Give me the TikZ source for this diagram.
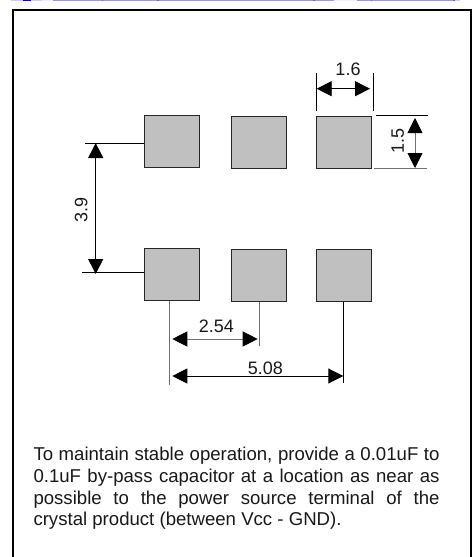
\documentclass[tikz,border=0pt]{standalone}
\usepackage{fontspec}
\setmainfont{Liberation Sans}
\usetikzlibrary{arrows.meta,calc}
\definecolor{padgray}{HTML}{C0C0C0}
\definecolor{peri}{HTML}{9C9CCE}
\definecolor{lav}{HTML}{CFCFE8}
\definecolor{pale}{HTML}{EFEFF8}
\definecolor{navy}{HTML}{1A0A8C}
\definecolor{extgray}{HTML}{707070}
\tikzset{
  x=1pt,y=-1pt,
  pad/.style={draw=black!85,line width=1.2pt,fill=padgray,rectangle,inner sep=0pt,minimum width=55pt,minimum height=52pt,anchor=north west},
  extline/.style={line width=0.8pt,black},
  extgrayline/.style={line width=1pt,extgray},
  dimline/.style={line width=0.9pt,black,{Triangle[length=15pt,width=15pt]}-{Triangle[length=15pt,width=15pt]}},
  dimgray/.style={dimline,draw=extgray,{Triangle[length=15pt,width=15pt,black]}-{Triangle[length=15pt,width=15pt,black]}},
  dimtext/.style={font=\fontsize{18}{20}\selectfont,inner sep=0pt,text=black!90},
}
\begin{document}
\begin{tikzpicture}
\useasboundingbox (0,0) rectangle (475,557);
% strip along the top edge
\fill[lav] (11,0) rectangle (23,1.3);
\fill[navy] (23,0) rectangle (31,1.3);
\fill[lav] (31,0) rectangle (42,1.3);
\fill[pale] (42,0) rectangle (53,1.3);
\fill[peri] (53,0) rectangle (334,1.3);
\fill[pale] (334,0) rectangle (357,1.3);
\fill[peri] (357,0) rectangle (453,1.3);
\fill[lav] (455,0) rectangle (460,1.3);
\foreach \xt in {101.5,157,313,370.5,453}{\fill[black!55] (\xt,0) rectangle (\xt+1.7,1.3);}
% frame, open at the bottom of the picture
\draw[line width=2.2pt,black] (13.3,557) -- (13.3,10) -- (471,10) -- (471,557);
% pads
\node[pad] (p1) at (143.5,115) {};
\node[pad] (p2) at (231,116) {};
\node[pad] (p3) at (316,116) {};
\node[pad] (p4) at (143.5,247.5) {};
\node[pad] (p5) at (231,248.5) {};
\node[pad] (p6) at (316,248.5) {};
% 1.6
\coordinate (a1) at (316.7,72.5); \coordinate (a2) at (316.7,111);
\coordinate (b1) at (373.3,72.5); \coordinate (b2) at (373.3,111);
\draw[extline] (a1) -- (a2);
\draw[extline] (b1) -- (b2);
\coordinate (c1) at (316.7,88.7); \coordinate (c2) at (370,88.7);
\draw[dimline] (c1) -- (c2);
\node[dimtext] (t16) at (348,69) {1.6};
% 1.5
\coordinate (d1) at (376,115.7); \coordinate (d2) at (428,115.7);
\coordinate (e1) at (373.7,168.7); \coordinate (e2) at (427,168.7);
\draw[extline] (d1) -- (d2);
\draw[extline,extgray] (e1) -- (e2);
\coordinate (f1) at (415,118); \coordinate (f2) at (415,168);
\draw[dimgray] (f1) -- (f2);
\node[dimtext,rotate=90] (t15) at (397.7,140.7) {1.5};
% 3.9
\coordinate (g1) at (85,143);
\coordinate (h1) at (82.3,272.3);
\draw[extline] (g1) -- (g1 -| p1.west);
\draw[extline] (h1) -- (h1 -| p4.west);
\coordinate (i1) at (95.7,143); \coordinate (i2) at (95.7,274);
\draw[dimline] (i1) -- (i2);
\node[dimtext,rotate=90] (t39) at (81.3,210) {3.9};
% 2.54
\coordinate (j1) at (169.7,385.3);
\coordinate (k1) at (259.7,346.3);
\coordinate (l1) at (343.3,382.7);
\draw[extgrayline] (j1) -- (j1 |- p4.south);
\draw[extgrayline] (k1) -- (k1 |- p5.south);
\draw[extline] (l1) -- (l1 |- p6.south);
\coordinate (m1) at (172.3,339); \coordinate (m2) at (257.7,339);
\draw[dimgray] (m1) -- (m2);
\node[dimtext] (t254) at (216.3,326) {2.54};
% 5.08
\coordinate (n1) at (172.3,376); \coordinate (n2) at (343.3,376);
\draw[dimline] (n1) -- (n2);
\node[dimtext] (t508) at (265.3,368.7) {5.08};
% note
\node[anchor=north west,inner sep=0pt,text width=406pt,align=justify,font=\fontsize{18.6}{21.7}\selectfont,text=black!90] (note) at (33.3,447)
{To maintain stable operation, provide a 0.01uF to\linebreak 0.1uF by-pass capacitor at a location as near as\linebreak possible to the power source terminal of the\linebreak crystal product (between Vcc - GND).};
\end{tikzpicture}
\end{document}
